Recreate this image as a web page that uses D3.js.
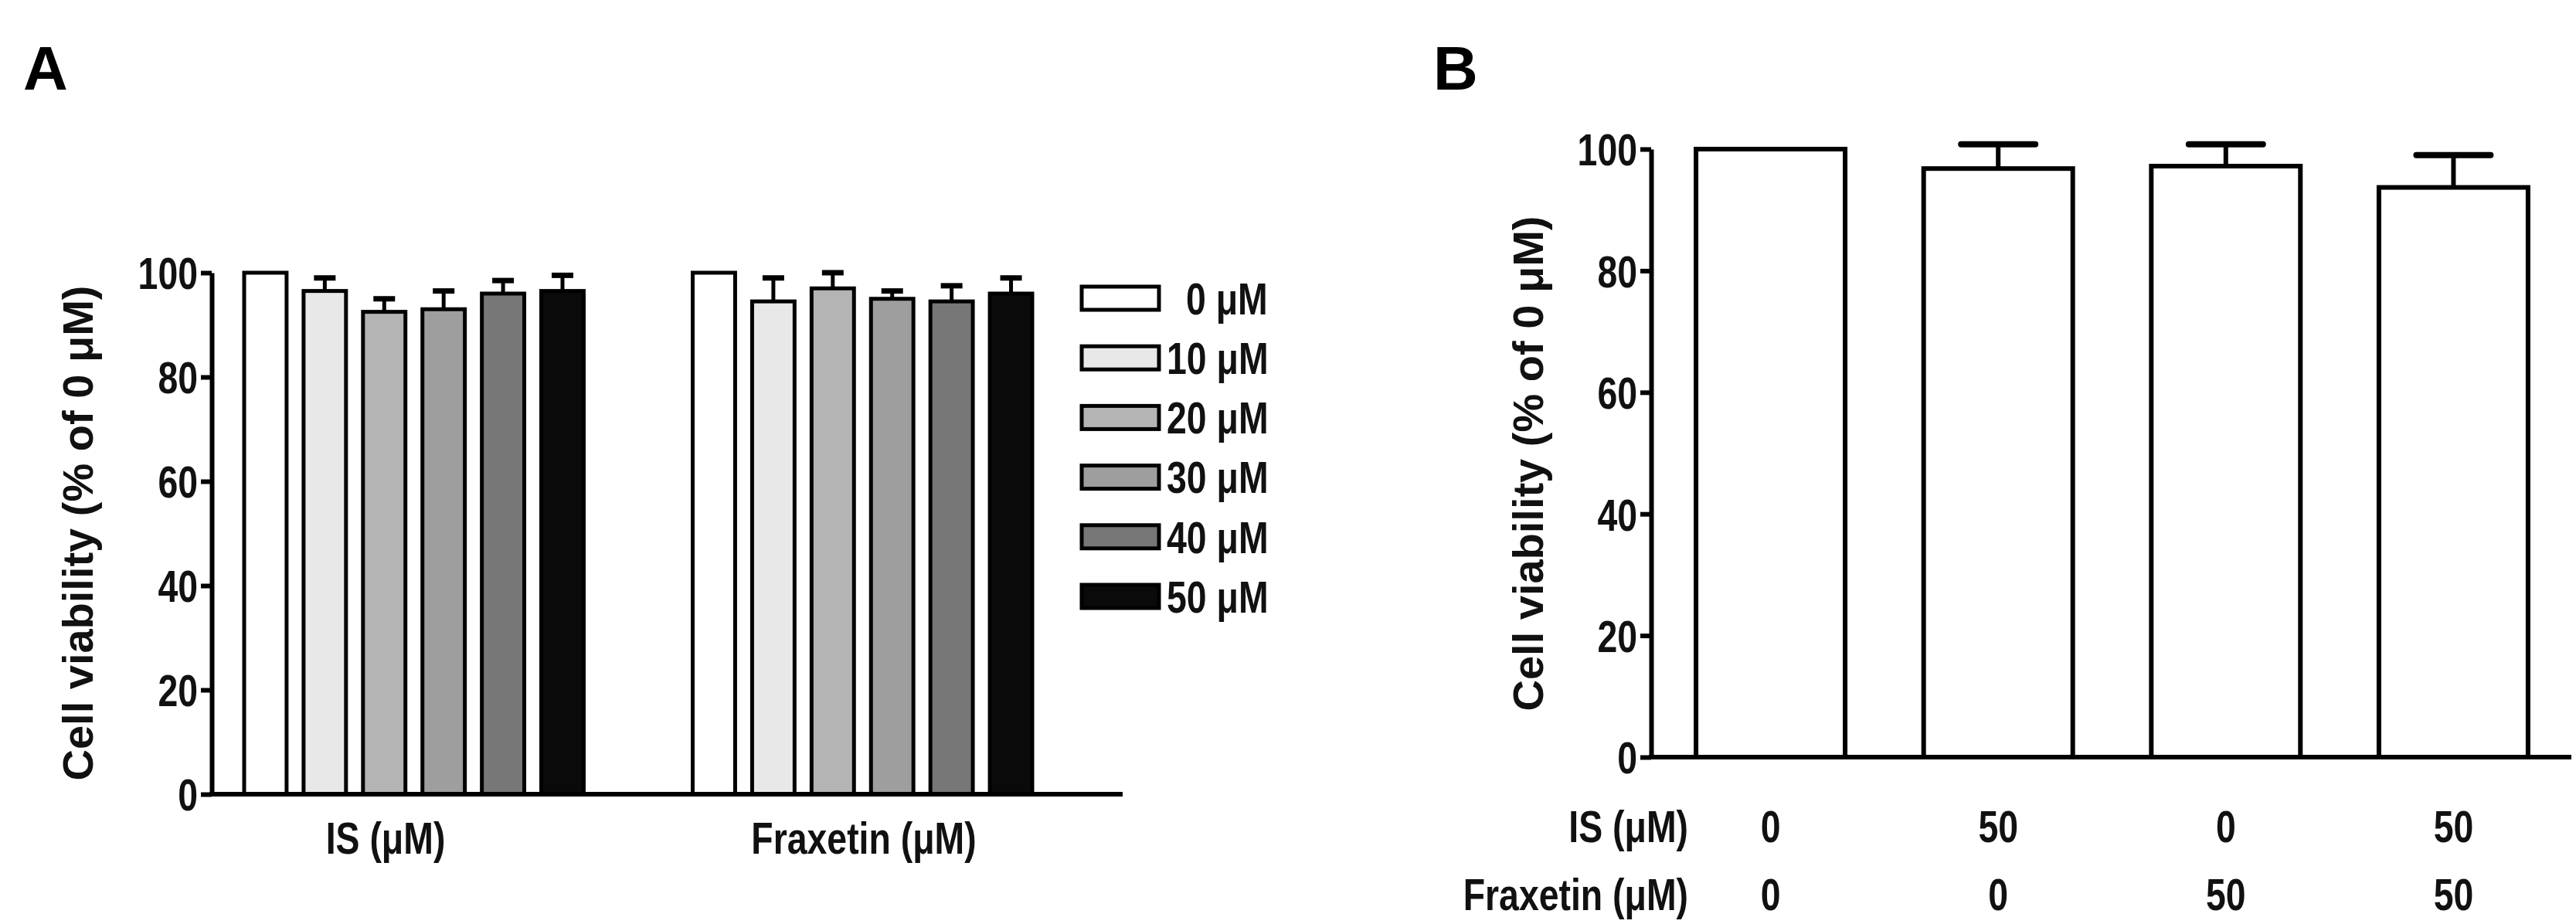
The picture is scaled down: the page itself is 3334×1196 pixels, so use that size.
<!DOCTYPE html>
<html><head><meta charset="utf-8">
<script src="https://cdn.jsdelivr.net/npm/d3@7"></script>
<style>body{margin:0;background:#fff}</style></head>
<body><svg id="c" width="3334" height="1196"></svg>
<script>
// Panel A data
const groupsA = ["IS (μM)", "Fraxetin (μM)"];
const dosesA = ["0 μM", "10 μM", "20 μM", "30 μM", "40 μM", "50 μM"];
const colorsA = ["#ffffff", "#e8e8e8", "#b4b4b4", "#9e9e9e", "#777777", "#0a0a0a"];
const valuesIS = [100, 96.5, 92.5, 93, 96, 96.5];
const errIS = [0, 2.5, 2.5, 3.5, 2.5, 3];
const valuesFrax = [100, 94.5, 97, 95, 94.5, 96];
const errFrax = [0, 4.5, 3, 1.5, 3, 3];
const yTicks = [0, 20, 40, 60, 80, 100];
// Panel B data
const condB = ["c1", "c2", "c3", "c4"];
const isRowB = ["0", "50", "0", "50"];
const fraxRowB = ["0", "0", "50", "50"];
const valuesB = [100, 96.8, 97.2, 93.7];
const errB = [0, 4, 3.6, 5.3];

const svg = d3.select("#c");
const font = "'Liberation Sans',Arial,sans-serif";
const SX = 0.8; // horizontal condensation for the narrow bold labels

function narrowText(g, x, y, txt, fs, anchor) {
  return g.append("text").attr("transform", `translate(${x},${y}) scale(${SX},1)`)
    .attr("dy", "0.36em").attr("text-anchor", anchor || "start")
    .attr("font-family", font).attr("font-weight", "bold").attr("font-size", fs).attr("fill", "#111").text(txt);
}

function yAxis(g, y, x0, fs) {
  const ax = d3.axisLeft(y).tickValues(yTicks).tickSize(14).tickSizeOuter(0).tickPadding(4);
  const a = g.append("g").attr("transform", `translate(${x0},0)`).call(ax);
  a.selectAll("path,line").attr("stroke", "#000").attr("stroke-width", 6);
  a.selectAll("text").attr("font-family", font).attr("font-weight", "bold").attr("font-size", fs).attr("fill", "#111")
    .attr("dy", "0.36em").attr("x", -18 / SX).attr("transform", `scale(${SX},1)`);
}

// ---------- Panel A ----------
{
  const g = svg.append("g");
  const y = d3.scaleLinear().domain([0, 100]).range([1028, 353]);
  const x0 = d3.scaleBand().domain(groupsA).range([316, 1336]).paddingInner(0.243);
  const x1 = d3.scaleBand().domain(dosesA).range([0, x0.bandwidth()]).paddingInner(0.286);
  const data = [valuesIS, valuesFrax], errs = [errIS, errFrax];
  groupsA.forEach((gr, gi) => {
    dosesA.forEach((d, di) => {
      const v = data[gi][di], e = errs[gi][di];
      const bx = x0(gr) + x1(d), bw = x1.bandwidth();
      if (e > 0) {
        g.append("line").attr("x1", bx + bw / 2).attr("x2", bx + bw / 2).attr("y1", y(v)).attr("y2", y(v + e)).attr("stroke", "#000").attr("stroke-width", 5);
        g.append("line").attr("x1", bx + bw / 2 - 14).attr("x2", bx + bw / 2 + 14).attr("y1", y(v + e)).attr("y2", y(v + e)).attr("stroke", "#000").attr("stroke-width", 7);
      }
      g.append("rect").attr("x", bx).attr("y", y(v)).attr("width", bw).attr("height", y(0) - y(v))
        .attr("fill", colorsA[di]).attr("stroke", "#000").attr("stroke-width", 5);
    });
  });
  yAxis(g, y, 274, 58);
  g.append("line").attr("x1", 271).attr("x2", 1453).attr("y1", y(0)).attr("y2", y(0)).attr("stroke", "#000").attr("stroke-width", 6);
  const labX = [499, 1118];
  groupsA.forEach((gr, i) => narrowText(g, labX[i], 1084, gr, 58, "middle"));
  g.append("text").attr("transform", `translate(120,690) rotate(-90)`).attr("text-anchor", "middle")
    .attr("font-family", font).attr("font-weight", "bold").attr("font-size", 56).attr("fill", "#111").text("Cell viability (% of 0 μM)");
  const ly = d3.scalePoint().domain(dosesA).range([386, 772]);
  dosesA.forEach((d, i) => {
    g.append("rect").attr("x", 1400).attr("y", ly(d) - 15).attr("width", 100).attr("height", 30)
      .attr("fill", colorsA[i]).attr("stroke", "#000").attr("stroke-width", 5);
    narrowText(g, i === 0 ? 1535 : 1510, ly(d), d, 58);
  });
  g.append("text").attr("x", 30).attr("y", 116).attr("font-family", font).attr("font-weight", "bold").attr("font-size", 80).text("A");
}

// ---------- Panel B ----------
{
  const g = svg.append("g");
  const y = d3.scaleLinear().domain([0, 100]).range([980, 193]);
  const x = d3.scaleBand().domain(condB).range([2145, 3322]).paddingInner(0.345).paddingOuter(0.17);
  condB.forEach((c, i) => {
    const v = valuesB[i], e = errB[i], bx = x(c), bw = x.bandwidth(), cx = bx + bw / 2;
    if (e > 0) {
      g.append("line").attr("x1", cx).attr("x2", cx).attr("y1", y(v)).attr("y2", y(v + e)).attr("stroke", "#000").attr("stroke-width", 6);
      g.append("line").attr("x1", cx - 48).attr("x2", cx + 48).attr("y1", y(v + e)).attr("y2", y(v + e)).attr("stroke", "#000").attr("stroke-width", 8).attr("stroke-linecap", "round");
    }
    g.append("rect").attr("x", bx).attr("y", y(v)).attr("width", bw).attr("height", y(0) - y(v))
      .attr("fill", "#fff").attr("stroke", "#000").attr("stroke-width", 6);
    narrowText(g, cx, 1069, isRowB[i], 58, "middle");
    narrowText(g, cx, 1157, fraxRowB[i], 58, "middle");
  });
  yAxis(g, y, 2137, 58);
  g.append("line").attr("x1", 2134).attr("x2", 3328).attr("y1", y(0)).attr("y2", y(0)).attr("stroke", "#000").attr("stroke-width", 6);
  narrowText(g, 2185, 1069, "IS (μM)", 58, "end");
  narrowText(g, 2185, 1157, "Fraxetin (μM)", 58, "end");
  g.append("text").attr("transform", `translate(1997,600) rotate(-90)`).attr("text-anchor", "middle")
    .attr("font-family", font).attr("font-weight", "bold").attr("font-size", 56).attr("fill", "#111").text("Cell viability (% of 0 μM)");
  g.append("text").attr("x", 1855).attr("y", 116).attr("font-family", font).attr("font-weight", "bold").attr("font-size", 80).text("B");
}
</script></body></html>
